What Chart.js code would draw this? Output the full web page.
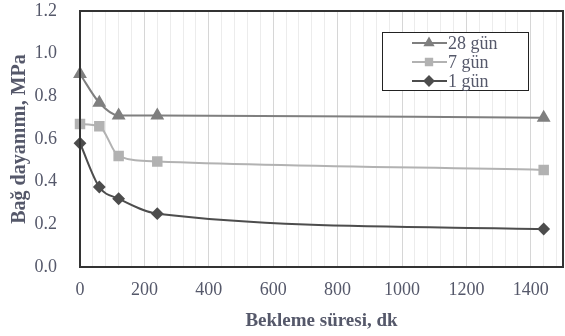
<!DOCTYPE html>
<html>
<head>
<meta charset="utf-8">
<script src="https://cdn.jsdelivr.net/npm/chart.js@4/dist/chart.umd.min.js"></script>
<style>
  html, body { margin: 0; padding: 0; background: #fff; }
  #wrap { width: 565px; height: 336px; }
</style>
</head>
<body>
<div id="wrap"><canvas id="c" width="565" height="336"></canvas></div>
<script>
// waiting time (min) and bond strength (MPa)
var minutes = [0, 60, 120, 240, 1440];
var gun28 = [0.905, 0.77, 0.71, 0.71, 0.70];
var gun7 = [0.67, 0.66, 0.52, 0.495, 0.455];
var gun1 = [0.58, 0.375, 0.32, 0.25, 0.178];
var seriesNames = ['28 gün', '7 gün', '1 gün'];
var yTicks = [0, 0.2, 0.4, 0.6, 0.8, 1.0, 1.2];

var serif = "'Liberation Serif', 'Times New Roman', serif";
var textColor = '#55586a';

function toPoints(ys) {
    return minutes.map(function (m, i) { return { x: m, y: ys[i] }; });
}

// box around the plot area
var frame = {
    id: 'frame',
    afterDraw: function (chart) {
        var a = chart.chartArea, ctx = chart.ctx;
        ctx.save();
        ctx.strokeStyle = '#333';
        ctx.lineWidth = 2;
        ctx.strokeRect(a.left, a.top, a.right - a.left, a.bottom - a.top);
        ctx.restore();
    }
};

// legend box inside the plot, like the original
var boxLegend = {
    id: 'boxLegend',
    afterDraw: function (chart) {
        var ctx = chart.ctx;
        var x = 382, y = 32, w = 146, h = 58;
        ctx.save();
        ctx.fillStyle = '#fff';
        ctx.fillRect(x, y, w, h);
        ctx.strokeStyle = '#222';
        ctx.lineWidth = 1;
        ctx.strokeRect(x + 0.5, y + 0.5, w, h);
        ctx.font = '18px ' + serif;
        ctx.textBaseline = 'middle';
        chart.data.datasets.forEach(function (ds, i) {
            var cy = y + 11 + i * 19;
            ctx.strokeStyle = ds.borderColor;
            ctx.lineWidth = 2;
            ctx.beginPath();
            ctx.moveTo(x + 30, cy);
            ctx.lineTo(x + 65, cy);
            ctx.stroke();
            ctx.fillStyle = ds.borderColor;
            Chart.helpers.drawPoint(ctx, {
                pointStyle: ds.pointStyle, radius: 4.5, borderWidth: 1
            }, x + 47, cy);
            ctx.fillStyle = textColor;
            ctx.fillText(ds.label, x + 66, cy + 1);
        });
        ctx.restore();
    }
};

var datasets = [
    { label: seriesNames[0], data: toPoints(gun28), color: '#7f7f7f', style: 'triangle', r: 6 },
    { label: seriesNames[1], data: toPoints(gun7), color: '#b2b2b2', style: 'rect', r: 6 },
    { label: seriesNames[2], data: toPoints(gun1), color: '#4d4d4d', style: 'rectRot', r: 5 }
].map(function (s) {
    return {
        label: s.label,
        data: s.data,
        borderColor: s.color,
        backgroundColor: s.color,
        pointBackgroundColor: s.color,
        pointBorderColor: s.color,
        pointStyle: s.style,
        pointRadius: s.r,
        borderWidth: 2,
        tension: 0.35,
        cubicInterpolationMode: 'monotone',
        clip: false
    };
});

new Chart(document.getElementById('c'), {
    type: 'line',
    data: { datasets: datasets },
    plugins: [frame, boxLegend],
    options: {
        responsive: false,
        animation: false,
        layout: { autoPadding: false, padding: { left: 0, right: 2, top: 11, bottom: 0 } },
        plugins: { legend: { display: false }, tooltip: { enabled: false } },
        scales: {
            x: {
                type: 'linear',
                min: 0, max: 1500,
                afterFit: function (s) {
                    s.height = 69;
                    s.paddingRight = 0;
                    s.paddingLeft = 0;
                },
                ticks: {
                    stepSize: 40,
                    autoSkip: false,
                    maxRotation: 0,
                    padding: 12,
                    color: textColor,
                    font: { family: serif, size: 18 },
                    callback: function (v) { return v % 200 === 0 && v <= 1400 ? v : ''; }
                },
                afterBuildTicks: function (s) {
                    var t = [];
                    for (var v = 0; v <= 1480; v += 40) t.push({ value: v });
                    s.ticks = t;
                },
                grid: {
                    drawTicks: false,
                    color: function (c) {
                        return c.tick && c.tick.value % 200 === 0 ? '#d6d6d6' : '#ececec';
                    }
                },
                border: { color: '#333', width: 2 },
                title: {
                    display: true,
                    text: 'Bekleme süresi, dk',
                    color: textColor,
                    font: { family: serif, size: 19, weight: 'bold' },
                    padding: { top: 4 }
                }
            },
            y: {
                min: 0, max: 1.2,
                afterFit: function (s) {
                    s.width = 80;
                    s.paddingTop = 0;
                    s.paddingBottom = 0;
                },
                afterBuildTicks: function (s) {
                    s.ticks = yTicks.map(function (v) { return { value: v }; });
                },
                ticks: {
                    padding: 15,
                    color: textColor,
                    font: { family: serif, size: 18 },
                    callback: function (v) { return v.toFixed(1); }
                },
                grid: { display: false },
                border: { color: '#333', width: 2 },
                title: {
                    display: true,
                    text: 'Bağ dayanımı, MPa',
                    color: textColor,
                    font: { family: serif, size: 20, weight: 'bold' },
                    padding: { top: 8, bottom: 0 }
                }
            }
        }
    }
});
</script>
</body>
</html>
